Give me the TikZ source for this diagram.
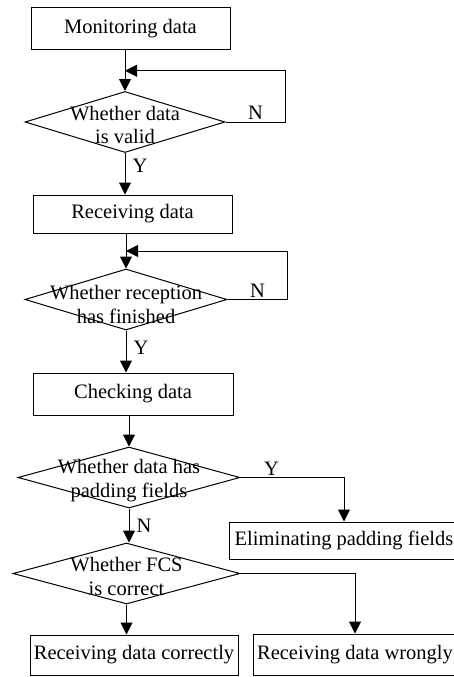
\documentclass[tikz,border=0pt]{standalone}
\usepackage{fontspec}
\setmainfont{Liberation Serif}
\usepackage{tikz}
\usetikzlibrary{arrows.meta,positioning,calc,shapes.geometric}

\begin{document}
\begin{tikzpicture}[x=1pt, y=-1pt,
  line width=1pt,
  flowfont/.style={font=\fontsize{20.5}{23.5}\selectfont},
  proc/.style={draw, rectangle, minimum width=#1, minimum height=40pt,
               inner sep=0pt, flowfont},
  decision/.style={draw, diamond, minimum width=#1, minimum height=61pt,
                   inner sep=0pt},
  dtext/.style={flowfont, align=center, inner sep=0pt},
  arr/.style={-{Triangle[length=12pt, width=12pt]}},
  yn/.style={flowfont, inner sep=2pt}
]
  \useasboundingbox (0,0) rectangle (454,677);
  \clip (0,0) rectangle (454,677);

  % Process boxes and decisions
  \node[proc=199pt, minimum height=42pt] (monitor) at (130.5,29) {Monitoring data};
  \node[decision=200pt] (valid) at (125,122)
    [label={[dtext, yshift=-3pt]center:Whether data\\is valid}] {};
  \node[proc=199pt, minimum height=38pt] (receive) at (132.5,214) {Receiving data};
  \node[decision=202pt] (finish) at (126,299.5)
    [label={[dtext, yshift=-5pt]center:Whether reception\\has finished}] {};
  \node[proc=200pt, minimum height=42pt] (check) at (133,394) {Checking data};
  \node[decision=222pt] (padding) at (129,477.5)
    [label={[dtext, yshift=-3pt]center:Whether data has\\padding fields}] {};
  \node[proc=230pt, minimum height=37pt] (elim) at (344,540.5) {Eliminating padding fields};
  \node[decision=227pt] (fcs) at (126.5,573.5)
    [label={[dtext, yshift=-3pt]center:Whether FCS\\is correct}] {};
  \node[proc=208pt] (correct) at (134,655) {Receiving data correctly};
  \node[proc=204pt, minimum height=41pt] (wrong) at (355,654.5) {Receiving data wrongly};

  % Main flow
  \draw[arr] (monitor.south -| valid.north) -- (valid.north);
  \draw[arr] (valid.south) -- node[yn, right=5pt, pos=0.3] {Y} (valid.south |- receive.north);
  \draw[arr] (receive.south -| finish.north) -- (finish.north);
  \draw[arr] (finish.south) -- node[yn, right=5pt, pos=0.4] {Y} (finish.south |- check.north);
  \draw[arr] (check.south -| padding.north) -- (padding.north);
  \draw[arr] (padding.south) -- node[yn, right=5pt, pos=0.5] {N} (padding.south |- fcs.north);
  \draw[arr] (fcs.south) -- (fcs.south |- correct.north);

  % Feedback loops
  \coordinate (loopa) at ($(monitor.south -| valid.north)!0.5!(valid.north)$);
  \draw[arr] (valid.east) -- node[yn, above] {N} ++(60,0) |- (loopa);
  \coordinate (loopb) at ($(receive.south -| finish.north)!0.5!(finish.north)$);
  \draw[arr] (finish.east) -- node[yn, above] {N} ++(60,0) |- (loopb);

  % Branches to the right
  \draw[arr] (padding.east) -| node[yn, above, pos=0.15] {Y} (elim.north);
  \draw[arr] (fcs.east) -| (wrong.north);
\end{tikzpicture}
\end{document}
